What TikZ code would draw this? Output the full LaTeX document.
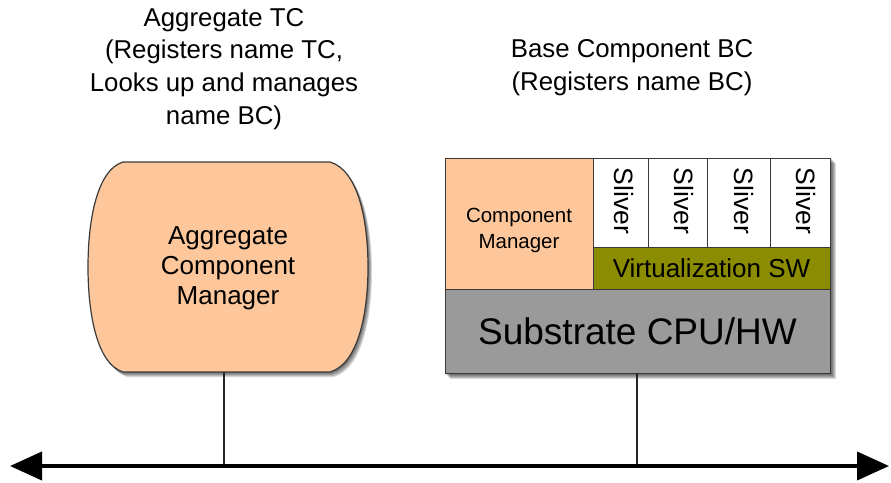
\documentclass[tikz,border=0pt]{standalone}
\usepackage{fontspec}
\setmainfont{Liberation Sans}
\usetikzlibrary{arrows.meta}
\definecolor{peach}{HTML}{FDC79B}
\definecolor{olivesw}{HTML}{8C8C00}
\definecolor{substrate}{HTML}{9A9A9A}
\definecolor{edge}{HTML}{3A3A3A}
\begin{document}
\begin{tikzpicture}[x=1pt,y=-1pt,
  cell/.style={draw=edge, line width=0.9pt, anchor=north west, inner sep=0pt, outer sep=0pt},
  title/.style={align=center, font=\fontsize{25.8}{32.7}\selectfont, inner sep=0pt},
  stem/.style={draw=black!85, line width=1.4pt},
  bus/.style={draw=black, line width=4pt, {Triangle[length=32pt,width=28pt]}-{Triangle[length=32pt,width=28pt]}},
  softshadow/.style={fill=black, opacity=0.15}
]
\useasboundingbox (0,0) rectangle (891,482);

% titles
\node[title] (tc) at (224,69) {Aggregate TC\\(Registers name TC,\\Looks up and manages\\name BC)};
\node[title] (bc) at (632,68) {Base Component BC\\(Registers name BC)};

% soft shadows
\foreach \d in {1,2,3,4,5}{
  \fill[softshadow] (445+\d,158+\d) rectangle (831+\d,374+\d);
  \fill[softshadow, shift={(\d*0.8,\d)}]
    (123,162) -- (330,162) .. controls (358,170) and (368,220) .. (368,267)
    .. controls (368,314) and (358,364) .. (330,372) -- (123,372)
    .. controls (97,364) and (88,314) .. (88,267)
    .. controls (88,220) and (97,170) .. (123,162) -- cycle;
}

% aggregate component manager
\draw[fill=peach, draw=edge, line width=1.2pt]
  (123,162) -- (330,162) .. controls (358,170) and (368,220) .. (368,267)
  .. controls (368,314) and (358,364) .. (330,372) -- (123,372)
  .. controls (97,364) and (88,314) .. (88,267)
  .. controls (88,220) and (97,170) .. (123,162) -- cycle;
\node[align=center, font=\fontsize{26}{30}\selectfont, inner sep=0pt] (acm) at (228,268)
  {Aggregate\\Component\\Manager};
\coordinate (accbottom) at (224,372);

% base component stack
\node[cell, fill=peach, minimum width=148pt, minimum height=132pt] (cm) at (445,158) {};
\node[align=center, font=\fontsize{20.5}{26}\selectfont] at (cm.center) [yshift=-6pt] {Component\\Manager};
\node[cell, fill=white, minimum width=55pt, minimum height=89pt] (s1) at (593,158) {};
\node[cell, fill=white, minimum width=59pt, minimum height=89pt] (s2) at (648,158) {};
\node[cell, fill=white, minimum width=63pt, minimum height=89pt] (s3) at (707,158) {};
\node[cell, fill=white, minimum width=60pt, minimum height=89pt] (s4) at (770,158) {};
\foreach \n/\x in {s1/624,s2/684,s3/744,s4/806}{
  \node[rotate=-90, font=\fontsize{26.5}{26.5}\selectfont, inner sep=0pt] at (\x,201) {Sliver};
}
\node[cell, fill=olivesw, minimum width=237pt, minimum height=42pt] (vsw) at (593,247) {};
\node[font=\fontsize{26}{26}\selectfont] at (vsw.center) {Virtualization SW};
\node[cell, fill=substrate, minimum width=385pt, minimum height=84pt] (sub) at (445,289) {};
\node[font=\fontsize{37}{37}\selectfont] at (sub.center) {Substrate CPU/HW};
\coordinate (bcbottom) at (637,373);

% network bus
\coordinate (busl) at (10,466);
\coordinate (busr) at (889,466);
\coordinate (tapa) at (224,466);
\coordinate (tapb) at (637,466);
\draw[stem] (accbottom) -- (tapa);
\draw[stem] (bcbottom) -- (tapb);
\draw[bus] (busl) -- (busr);
\end{tikzpicture}
\end{document}
